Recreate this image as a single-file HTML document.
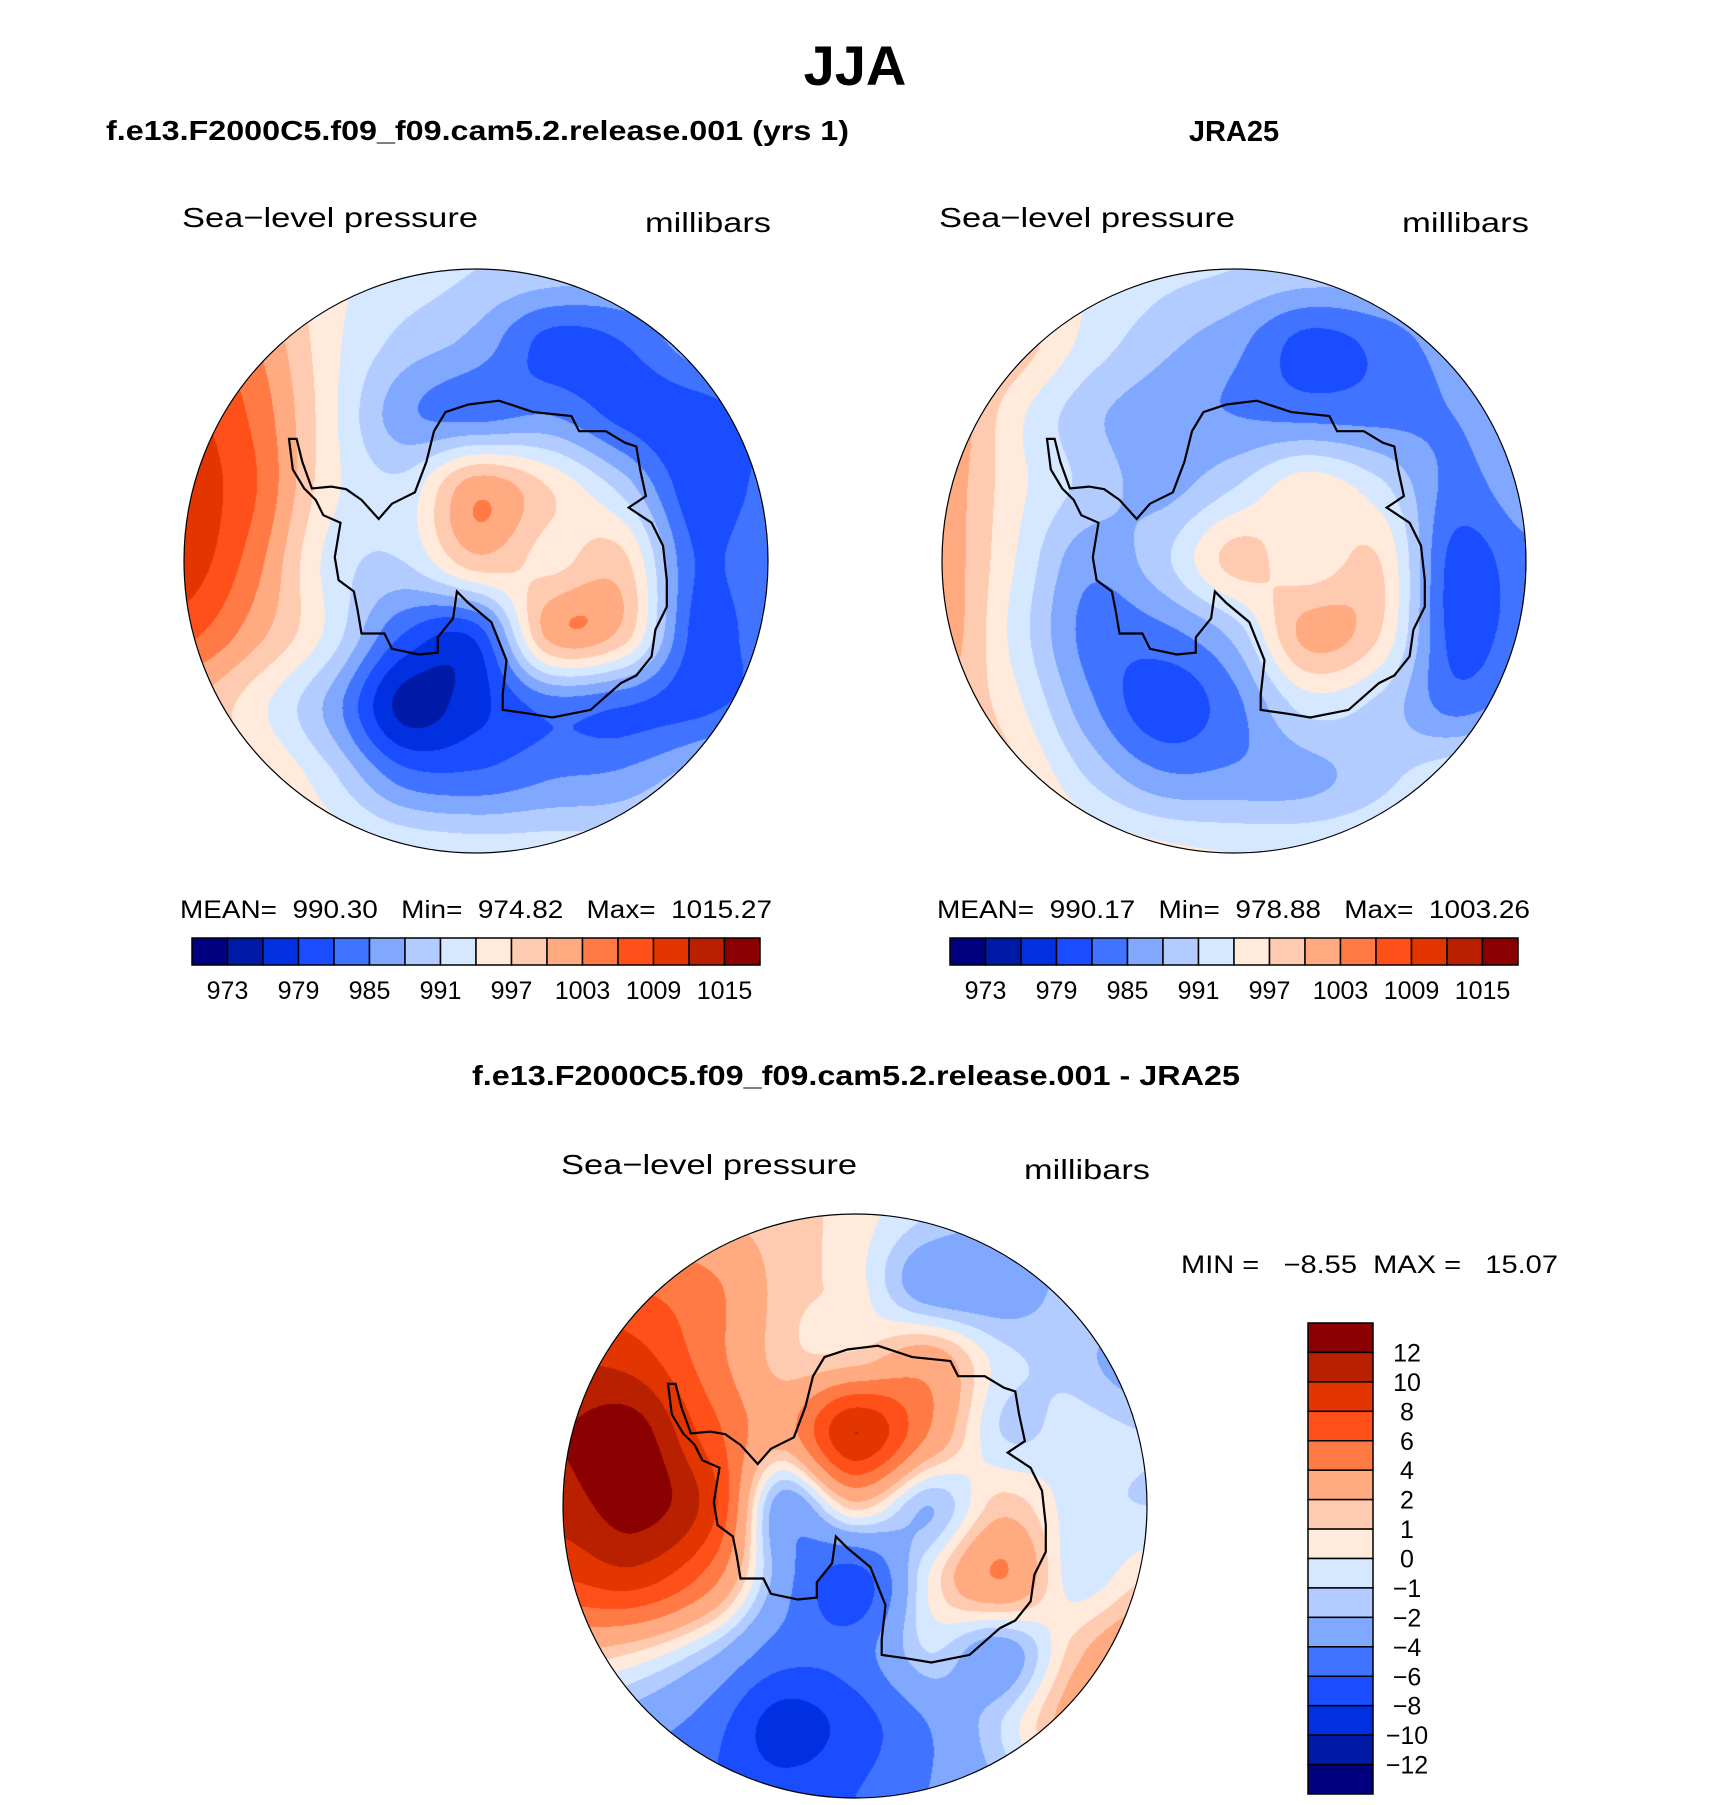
<!DOCTYPE html>
<html><head><meta charset="utf-8">
<style>
html,body{margin:0;padding:0;background:#fff;}
#root{position:relative;width:1710px;height:1805px;overflow:hidden;font-family:"Liberation Sans",sans-serif;}
canvas{position:absolute;}
svg{position:absolute;left:0;top:0;}
svg text{white-space:pre;}
</style></head>
<body>
<div id="root">
<canvas id="c0" width="584" height="584" style="left:184px;top:269px"></canvas>
<canvas id="c1" width="584" height="584" style="left:942px;top:269px"></canvas>
<canvas id="c2" width="584" height="584" style="left:563px;top:1214px"></canvas>
<svg id="ov" width="1710" height="1805" xml:space="preserve">
<text x="855" y="85" text-anchor="middle" font-size="56" font-weight="bold" font-family="Liberation Sans, sans-serif">JJA</text>
<text x="106" y="140" font-size="28" font-weight="bold" textLength="743" lengthAdjust="spacingAndGlyphs">f.e13.F2000C5.f09_f09.cam5.2.release.001 (yrs 1)</text>
<text x="1234" y="141" text-anchor="middle" font-size="29" font-weight="bold">JRA25</text>
<text x="182" y="227" font-size="28" textLength="296" lengthAdjust="spacingAndGlyphs">Sea−level pressure</text>
<text x="645" y="232" font-size="28" textLength="126" lengthAdjust="spacingAndGlyphs">millibars</text>
<text x="939" y="227" font-size="28" textLength="296" lengthAdjust="spacingAndGlyphs">Sea−level pressure</text>
<text x="1402" y="232" font-size="28" textLength="127" lengthAdjust="spacingAndGlyphs">millibars</text>
<text x="180" y="918" font-size="25" textLength="592" lengthAdjust="spacingAndGlyphs">MEAN=  990.30   Min=  974.82   Max=  1015.27</text>
<text x="937" y="918" font-size="25" textLength="593" lengthAdjust="spacingAndGlyphs">MEAN=  990.17   Min=  978.88   Max=  1003.26</text>
<text x="472" y="1085" font-size="28" font-weight="bold" textLength="768" lengthAdjust="spacingAndGlyphs">f.e13.F2000C5.f09_f09.cam5.2.release.001 - JRA25</text>
<text x="561" y="1174" font-size="28" textLength="296" lengthAdjust="spacingAndGlyphs">Sea−level pressure</text>
<text x="1024" y="1179" font-size="28" textLength="126" lengthAdjust="spacingAndGlyphs">millibars</text>
<text x="1181" y="1273" font-size="25" textLength="377" lengthAdjust="spacingAndGlyphs">MIN =   −8.55  MAX =   15.07</text>
<g id="cb"></g>
<g id="coast"></g>
</svg>
</div>
<script>
// ---- data ----
const colors = ["#000080","#001aa8","#0030e0","#1a4dff","#4073ff","#80a8ff","#b3ccff","#d6e8ff","#ffeadb","#ffcbb0","#ffaa80","#ff7a45","#ff5019","#e33500","#b82000","#8b0000"];
const absLevels = [973,976,979,982,985,988,991,994,997,1000,1003,1006,1009,1012,1015];
const absTickLabels = ["973","979","985","991","997","1003","1009","1015"];
const diffLevels = [-12,-10,-8,-6,-4,-2,-1,0,1,2,4,6,8,10,12];
const diffTickLabels = ["12","10","8","6","4","2","1","0","−1","−2","−4","−6","−8","−10","−12"];
// 9x9 grids, rows top->bottom, cols left->right (u,v = -1..1 step .25)
const modelGrid = [
 [1005,1000,995,993,991,990,989,989,989],
 [1008,1003,995,990,987,981,982,987,990],
 [1010,1005,995,986,984,985,981,980,983],
 [1011,1006,995,992,1002,997,990,980,983],
 [1011,1004,993,991,999,996,998,982,985],
 [1007,1001,993,982,980,1001,999,981,984],
 [1000,995,987,975,978,983,982,981,984],
 [1001,998,992,984,983,985,986,990,995],
 [1000,998,996,994,993,993,993,995,999]
];
const jraGrid = [
 [1000,997,994,992,991,990,990,991,993],
 [1002,999,993,989,986,981,983,987,990],
 [1003,995,989,986,985,984,984,985,988],
 [1002,995,990,987,991,996,992,984,987],
 [1002,994,986,990,998,995,997,981,984],
 [1002,993,984,984,989,1001,997,981,984],
 [1000,995,986,980,984,992,990,984,987],
 [1001,998,991,986,986,987,990,994,997],
 [1003,1000,997,995,994,994,995,997,999]
];
const diffGrid = [
 [4,3,2,1.5,0.5,-1,-2,-2,-2],
 [7,6,4.5,1.5,0.5,-3,-3,-1.5,-1],
 [10,9,5,1.5,1.5,3,-0.5,-1.5,-3],
 [12,13,7,3,10,4,-1,-0.5,-1],
 [11,13,9,-3,1.5,-2,1.5,-0.5,-1],
 [8,9,5,-3,-7,0,4,-0.5,1],
 [2,1,-1.5,-5,-5,-1,-3,1.5,4],
 [-2,-3,-5,-9,-7,-4,-1,3,5],
 [-4,-5,-6,-7,-6,-4,-2,1,3]
];
// approximate Antarctic coastline (pixel coords in a 1530px reference circle)
const coastPx = [[330,480],[345,540],[370,610],[420,605],[460,612],[500,640],[545,690],[580,650],[640,620],[670,540],[690,460],[720,410],[780,390],[860,380],[950,410],[1050,420],[1070,460],[1140,460],[1190,490],[1220,500],[1230,560],[1245,630],[1200,660],[1260,700],[1290,760],[1300,850],[1300,920],[1270,980],[1260,1050],[1220,1100],[1180,1120],[1100,1190],[1000,1210],[940,1200],[870,1190],[870,1150],[880,1060],[840,960],[780,910],[750,880],[740,950],[700,1000],[700,1040],[650,1045],[580,1030],[560,990],[500,990],[490,930],[480,880],[440,850],[430,790],[445,700],[400,680],[380,640],[350,610],[320,560],[310,480]];

function cr(p0,p1,p2,p3,t){return p1+0.5*t*(p2-p0+t*(2*p0-5*p1+4*p2-p3+t*(3*(p1-p2)+p3-p0)));}
function sample(G,u,v){
  const gx=Math.max(0,Math.min(8,(u+1)*4)), gy=Math.max(0,Math.min(8,(v+1)*4));
  const ix=Math.min(7,Math.floor(gx)), iy=Math.min(7,Math.floor(gy));
  const tx=gx-ix, ty=gy-iy;
  const g=(r,c)=>G[Math.max(0,Math.min(8,r))][Math.max(0,Math.min(8,c))];
  const rows=[];
  for(let k=-1;k<=2;k++){rows.push(cr(g(iy+k,ix-1),g(iy+k,ix),g(iy+k,ix+1),g(iy+k,ix+2),tx));}
  return cr(rows[0],rows[1],rows[2],rows[3],ty);
}
function hex(h){return [parseInt(h.substr(1,2),16),parseInt(h.substr(3,2),16),parseInt(h.substr(5,2),16)];}
const rgb=colors.map(hex);
function drawMap(id,G,levels){
  const cv=document.getElementById(id), ctx=cv.getContext('2d');
  const N=cv.width, R=N/2, img=ctx.createImageData(N,N);
  for(let y=0;y<N;y++)for(let x=0;x<N;x++){
    const u=(x+0.5-R)/R, v=(y+0.5-R)/R, o=(y*N+x)*4;
    if(u*u+v*v>1){img.data[o+3]=0;continue;}
    const val=sample(G,u,v); let k=0; while(k<levels.length&&val>=levels[k])k++;
    const c=rgb[k]; img.data[o]=c[0];img.data[o+1]=c[1];img.data[o+2]=c[2];img.data[o+3]=255;
  }
  ctx.putImageData(img,0,0);
}
drawMap('c0',modelGrid,absLevels);
drawMap('c1',jraGrid,absLevels);
drawMap('c2',diffGrid,diffLevels);

const NS="http://www.w3.org/2000/svg";
const cb=document.getElementById('cb'), coast=document.getElementById('coast');
function mk(tag,attrs,parent){const e=document.createElementNS(NS,tag);for(const k in attrs)e.setAttribute(k,attrs[k]);parent.appendChild(e);return e;}
[[476,561],[1234,561],[855,1506]].forEach((c,i)=>{
  const d=coastPx.map((p,j)=>(j?'L':'M')+(c[0]+(p[0]-800)/765*292).toFixed(1)+' '+(c[1]+(p[1]-800)/765*292).toFixed(1)).join(' ')+'Z';
  const path=mk('path',{d:d,fill:'none',stroke:'#000','stroke-width':2.2},coast);
  
  
  const circ=mk('circle',{cx:c[0],cy:c[1],r:292,fill:'none',stroke:'#000','stroke-width':1.2},coast);
  
  
});
[192,950].forEach((x0,b)=>{
  const w=(760-192)/16;
  colors.forEach((col,i)=>{
    const r=mk('rect',{x:x0+i*w,y:938,width:w,height:27,fill:col,stroke:'#000','stroke-width':1.5},cb);
    
    
  });
  absTickLabels.forEach((t,k)=>{
    const tx=mk('text',{x:x0+w*(2*k+1),y:999,'text-anchor':'middle','font-size':25},cb);
    tx.textContent=t;
    
    
  });
});
{
  const x0=1308,y0=1323,h=(1794-1323)/16;
  for(let i=0;i<16;i++){
    const r=mk('rect',{x:x0,y:y0+i*h,width:65,height:h,fill:colors[15-i],stroke:'#000','stroke-width':1.5},cb);
    
    
  }
  diffTickLabels.forEach((t,k)=>{
    const tx=mk('text',{x:1407,y:y0+h*(k+1)+9,'text-anchor':'middle','font-size':25},cb);
    tx.textContent=t;
    
    
  });
}
</script>
</body></html>
